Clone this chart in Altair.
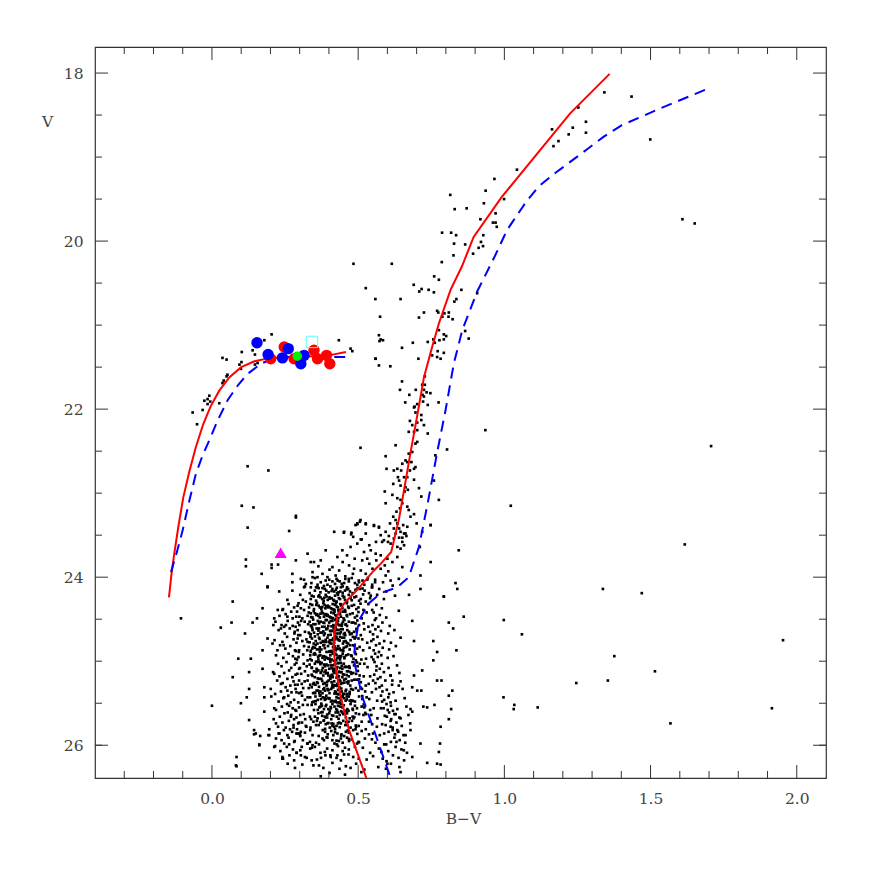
import altair as alt
import pandas as pd

# ---------------- data (B-V, V) ----------------
ms_core = [
(0.352,24.01),(0.468,24.02),(0.401,24.03),(0.515,24.04),(0.437,24.05),(0.372,24.06),(0.489,24.07),(0.421,24.08),(0.548,24.09),(0.456,24.02),(0.389,24.04),(0.503,24.06),(0.444,24.08),(0.361,24.09),(0.478,24.01),(0.412,24.05),(0.531,24.03),(0.452,24.07),(0.395,24.09),(0.426,24.02),(0.497,24.09),(0.468,24.05),(0.340,24.07),(0.558,24.06),(0.430,24.04),
(0.318,24.11),(0.441,24.12),(0.378,24.13),(0.506,24.14),(0.424,24.15),(0.352,24.16),(0.472,24.17),(0.399,24.18),(0.537,24.19),(0.447,24.11),(0.365,24.13),(0.491,24.15),(0.418,24.17),(0.334,24.19),(0.462,24.12),(0.386,24.14),(0.522,24.16),(0.433,24.18),(0.405,24.11),(0.481,24.19),(0.356,24.12),(0.455,24.16),(0.412,24.14),(0.498,24.13),(0.371,24.18),(0.428,24.19),(0.548,24.12),(0.391,24.16),(0.466,24.14),(0.439,24.17),
(0.302,24.21),(0.421,24.22),(0.364,24.23),(0.487,24.24),(0.409,24.25),(0.338,24.26),(0.455,24.27),(0.382,24.28),(0.526,24.29),(0.431,24.21),(0.348,24.23),(0.474,24.25),(0.396,24.27),(0.321,24.29),(0.447,24.22),(0.371,24.24),(0.509,24.26),(0.418,24.28),(0.389,24.21),(0.462,24.29),(0.341,24.22),(0.438,24.26),(0.402,24.24),(0.493,24.23),(0.356,24.28),(0.426,24.29),(0.543,24.22),(0.377,24.26),(0.451,24.24),(0.415,24.27),(0.468,24.21),(0.392,24.23),(0.434,24.25),(0.311,24.27),(0.503,24.28),
(0.296,24.31),(0.413,24.32),(0.357,24.33),(0.478,24.34),(0.401,24.35),(0.332,24.36),(0.446,24.37),(0.374,24.38),(0.518,24.39),(0.424,24.31),(0.343,24.33),(0.466,24.35),(0.388,24.37),(0.315,24.39),(0.439,24.32),(0.365,24.34),(0.501,24.36),(0.411,24.38),(0.381,24.31),(0.455,24.39),(0.336,24.32),(0.431,24.36),(0.396,24.34),(0.486,24.33),(0.349,24.38),(0.419,24.39),(0.535,24.32),(0.369,24.36),(0.443,24.34),(0.407,24.37),(0.461,24.31),(0.385,24.33),(0.427,24.35),(0.304,24.37),(0.494,24.38),(0.421,24.33),(0.398,24.36),(0.437,24.39),
(0.291,24.41),(0.408,24.42),(0.352,24.43),(0.472,24.44),(0.396,24.45),(0.327,24.46),(0.441,24.47),(0.369,24.48),(0.512,24.49),(0.419,24.41),(0.338,24.43),(0.461,24.45),(0.383,24.47),(0.309,24.49),(0.434,24.42),(0.360,24.44),(0.496,24.46),(0.406,24.48),(0.376,24.41),(0.450,24.49),(0.331,24.42),(0.426,24.46),(0.391,24.44),(0.481,24.43),(0.344,24.48),(0.414,24.49),(0.529,24.42),(0.364,24.46),(0.438,24.44),(0.402,24.47),(0.456,24.41),(0.380,24.43),(0.422,24.45),(0.299,24.47),(0.489,24.48),(0.416,24.43),(0.393,24.46),(0.432,24.49),(0.357,24.45),(0.447,24.41),
(0.422,24.51),(0.305,24.52),(0.468,24.53),(0.381,24.54),(0.519,24.55),(0.354,24.56),(0.437,24.57),(0.398,24.58),(0.286,24.59),(0.453,24.51),(0.372,24.53),(0.491,24.55),(0.415,24.57),(0.341,24.59),(0.406,24.52),(0.478,24.54),(0.329,24.56),(0.444,24.58),(0.389,24.51),(0.535,24.59),(0.362,24.52),(0.429,24.56),(0.401,24.54),(0.317,24.53),(0.462,24.58),(0.377,24.59),(0.412,24.52),(0.347,24.56),(0.484,24.54),(0.435,24.57),(0.393,24.51),(0.448,24.53),(0.366,24.55),(0.503,24.57),(0.419,24.58),(0.334,24.53),(0.458,24.56),(0.385,24.59),(0.426,24.55),(0.299,24.57),
(0.358,24.61),(0.447,24.62),(0.293,24.63),(0.412,24.64),(0.486,24.65),(0.371,24.66),(0.429,24.67),(0.338,24.68),(0.509,24.69),(0.395,24.61),(0.463,24.63),(0.318,24.65),(0.437,24.67),(0.383,24.69),(0.521,24.62),(0.404,24.64),(0.349,24.66),(0.472,24.68),(0.416,24.61),(0.302,24.69),(0.441,24.62),(0.376,24.66),(0.495,24.64),(0.423,24.63),(0.362,24.68),(0.456,24.69),(0.391,24.62),(0.331,24.66),(0.407,24.64),(0.478,24.67),(0.366,24.61),(0.433,24.63),(0.541,24.65),(0.386,24.67),(0.451,24.68),(0.344,24.63),(0.419,24.66),(0.398,24.69),(0.469,24.65),(0.282,24.67),
(0.438,24.71),(0.366,24.72),(0.501,24.73),(0.323,24.74),(0.412,24.75),(0.457,24.76),(0.387,24.77),(0.531,24.78),(0.348,24.79),(0.426,24.71),(0.293,24.73),(0.474,24.75),(0.401,24.77),(0.361,24.79),(0.445,24.72),(0.514,24.74),(0.379,24.76),(0.418,24.78),(0.337,24.71),(0.466,24.79),(0.395,24.72),(0.309,24.76),(0.431,24.74),(0.488,24.73),(0.372,24.78),(0.407,24.79),(0.452,24.72),(0.355,24.76),(0.421,24.74),(0.391,24.77),(0.482,24.71),(0.342,24.73),(0.434,24.75),(0.381,24.77),(0.545,24.76),(0.414,24.73),(0.461,24.78),(0.327,24.77),(0.403,24.75),(0.448,24.79),
(0.384,24.81),(0.462,24.82),(0.331,24.83),(0.419,24.84),(0.496,24.85),(0.359,24.86),(0.441,24.87),(0.287,24.88),(0.403,24.89),(0.473,24.81),(0.346,24.83),(0.427,24.85),(0.517,24.87),(0.392,24.89),(0.315,24.82),(0.451,24.84),(0.374,24.86),(0.409,24.88),(0.483,24.81),(0.338,24.89),(0.432,24.82),(0.367,24.86),(0.539,24.84),(0.414,24.83),(0.449,24.88),(0.298,24.87),(0.397,24.82),(0.471,24.86),(0.352,24.84),(0.424,24.87),(0.381,24.81),(0.505,24.83),(0.437,24.85),(0.326,24.87),(0.406,24.88),(0.458,24.83),(0.369,24.89),(0.417,24.86),(0.489,24.89),(0.343,24.85),
(0.447,24.91),(0.312,24.92),(0.405,24.93),(0.478,24.94),(0.363,24.95),(0.429,24.96),(0.527,24.97),(0.386,24.98),(0.341,24.99),(0.416,24.91),(0.459,24.93),(0.296,24.95),(0.398,24.97),(0.492,24.99),(0.354,24.92),(0.436,24.94),(0.378,24.96),(0.511,24.98),(0.422,24.91),(0.327,24.99),(0.466,24.92),(0.393,24.96),(0.442,24.94),(0.371,24.93),(0.409,24.98),(0.484,24.97),(0.348,24.92),(0.431,24.96),(0.381,24.94),(0.546,24.95),(0.413,24.91),(0.336,24.93),(0.453,24.95),(0.402,24.97),(0.364,24.98),(0.476,24.93),(0.425,24.99),(0.389,24.95),(0.285,24.97),(0.438,24.98),
(0.369,25.01),(0.441,25.02),(0.506,25.03),(0.334,25.04),(0.413,25.05),(0.387,25.06),(0.463,25.07),(0.301,25.08),(0.427,25.09),(0.481,25.01),(0.352,25.03),(0.398,25.05),(0.532,25.07),(0.446,25.09),(0.375,25.02),(0.419,25.04),(0.324,25.06),(0.471,25.08),(0.405,25.01),(0.358,25.09),(0.435,25.02),(0.498,25.06),(0.383,25.04),(0.451,25.03),(0.342,25.08),(0.416,25.09),(0.289,25.02),(0.469,25.06),(0.392,25.04),(0.429,25.07),(0.363,25.01),(0.521,25.03),(0.408,25.05),(0.454,25.07),(0.379,25.08),(0.314,25.03),(0.439,25.08),(0.401,25.09),(0.486,25.05),(0.422,25.03),
(0.421,25.11),(0.349,25.12),(0.474,25.13),(0.396,25.14),(0.305,25.15),(0.452,25.16),(0.381,25.17),(0.519,25.18),(0.413,25.19),(0.364,25.11),(0.437,25.13),(0.493,25.15),(0.329,25.17),(0.404,25.19),(0.466,25.12),(0.372,25.14),(0.428,25.16),(0.541,25.18),(0.389,25.11),(0.446,25.19),(0.318,25.12),(0.411,25.16),(0.483,25.14),(0.357,25.13),(0.434,25.18),(0.398,25.17),(0.462,25.12),(0.341,25.16),(0.419,25.14),(0.505,25.17),(0.376,25.11),(0.443,25.13),(0.292,25.15),(0.407,25.17),(0.468,25.18),(0.385,25.13),(0.431,25.18),(0.352,25.19),(0.477,25.15),(0.415,25.12),
(0.367,25.21),(0.452,25.22),(0.298,25.23),(0.418,25.24),(0.509,25.25),(0.386,25.26),(0.441,25.27),(0.336,25.28),(0.473,25.29),(0.405,25.21),(0.551,25.23),(0.359,25.25),(0.428,25.27),(0.392,25.29),(0.487,25.22),(0.317,25.24),(0.446,25.26),(0.412,25.28),(0.374,25.21),(0.526,25.29),(0.433,25.22),(0.348,25.26),(0.467,25.24),(0.399,25.23),(0.284,25.28),(0.421,25.29),(0.495,25.22),(0.362,25.26),(0.439,25.24),(0.381,25.27),(0.458,25.21),(0.327,25.23),(0.409,25.25),(0.536,25.27),(0.393,25.28),(0.478,25.23),(0.354,25.28),(0.426,25.29),(0.461,25.25),(0.307,25.27),
(0.436,25.31),(0.312,25.32),(0.395,25.33),(0.482,25.34),(0.358,25.35),(0.421,25.36),(0.547,25.37),(0.378,25.38),(0.463,25.39),(0.341,25.31),(0.408,25.33),(0.501,25.35),(0.289,25.37),(0.449,25.39),(0.384,25.32),(0.431,25.34),(0.524,25.36),(0.367,25.38),(0.415,25.31),(0.471,25.39),(0.331,25.32),(0.444,25.36),(0.398,25.34),(0.561,25.33),(0.353,25.38),(0.427,25.39),(0.492,25.32),(0.371,25.36),(0.459,25.34),(0.305,25.37),(0.411,25.31),(0.476,25.33),(0.387,25.35),(0.438,25.37),(0.346,25.38),(0.513,25.33),(0.402,25.38),(0.453,25.39),(0.363,25.35),(0.424,25.37),
(0.391,25.41),(0.468,25.42),(0.327,25.43),(0.433,25.44),(0.514,25.45),(0.362,25.46),(0.411,25.47),(0.489,25.48),(0.295,25.49),(0.447,25.41),(0.379,25.43),(0.538,25.45),(0.423,25.47),(0.343,25.49),(0.461,25.42),(0.401,25.44),(0.318,25.46),(0.476,25.48),(0.369,25.41),(0.429,25.49),(0.503,25.42),(0.386,25.46),(0.452,25.44),(0.336,25.43),(0.417,25.48),(0.565,25.47),(0.354,25.42),(0.441,25.46),(0.396,25.44),(0.482,25.47),(0.308,25.41),(0.426,25.43),(0.373,25.45),(0.457,25.47),(0.407,25.48),(0.529,25.43),(0.348,25.48),(0.436,25.49),(0.389,25.45),(0.471,25.47),
(0.412,25.51),(0.327,25.52),(0.489,25.53),(0.371,25.54),(0.446,25.55),(0.553,25.56),(0.398,25.57),(0.285,25.58),(0.467,25.59),(0.354,25.51),(0.431,25.53),(0.521,25.55),(0.383,25.57),(0.458,25.59),(0.311,25.52),(0.419,25.54),(0.578,25.56),(0.362,25.58),(0.474,25.51),(0.403,25.59),(0.341,25.52),(0.496,25.56),(0.438,25.54),(0.376,25.53),(0.541,25.58),(0.425,25.57),(0.298,25.55),(0.463,25.57),(0.391,25.52),(0.512,25.54),(0.349,25.58),(0.441,25.51),(0.407,25.56),(0.482,25.58),(0.367,25.55),
(0.446,25.61),(0.364,25.62),(0.527,25.63),(0.302,25.64),(0.415,25.65),(0.481,25.66),(0.389,25.67),(0.566,25.68),(0.339,25.69),(0.432,25.61),(0.503,25.63),(0.377,25.65),(0.458,25.67),(0.281,25.69),(0.401,25.62),(0.545,25.64),(0.352,25.66),(0.471,25.68),(0.423,25.61),(0.319,25.69),(0.492,25.62),(0.386,25.66),(0.437,25.64),(0.591,25.65),(0.361,25.68),(0.408,25.69),(0.462,25.62),(0.335,25.66),(0.518,25.64),(0.394,25.67),(0.449,25.63),(0.373,25.61),(0.427,25.66),(0.484,25.68),(0.314,25.63),
(0.382,25.71),(0.467,25.72),(0.308,25.73),(0.431,25.74),(0.548,25.75),(0.356,25.76),(0.412,25.77),(0.493,25.78),(0.279,25.79),(0.449,25.71),(0.371,25.73),(0.582,25.75),(0.426,25.77),(0.337,25.79),(0.512,25.72),(0.395,25.74),(0.456,25.76),(0.323,25.78),(0.479,25.71),(0.403,25.79),(0.537,25.72),(0.365,25.76),(0.441,25.74),(0.298,25.73),(0.418,25.78),(0.502,25.77),(0.347,25.72),(0.463,25.76),(0.389,25.75),(0.564,25.78),(0.435,25.73),(0.321,25.77),(0.474,25.79),(0.409,25.74),(0.359,25.71),
(0.421,25.81),(0.336,25.82),(0.512,25.83),(0.387,25.84),(0.468,25.85),(0.289,25.86),(0.443,25.87),(0.574,25.88),(0.365,25.89),(0.491,25.81),(0.408,25.83),(0.318,25.85),(0.537,25.87),(0.452,25.89),(0.379,25.82),(0.604,25.84),(0.429,25.86),(0.344,25.88),(0.483,25.82),(0.396,25.87),(0.551,25.86),(0.458,25.84),(0.302,25.89),(0.415,25.88),(0.526,25.81),
(0.462,25.91),(0.378,25.92),(0.547,25.93),(0.311,25.94),(0.434,25.95),(0.501,25.96),(0.356,25.97),(0.419,25.98),(0.589,25.99),(0.395,25.91),(0.478,25.93),(0.283,25.95),(0.447,25.97),(0.366,25.99),(0.523,25.92),(0.412,25.94),(0.335,25.96),(0.496,25.98),(0.441,25.92),(0.612,25.96),(0.383,25.94),(0.469,25.95),(0.326,25.98),(0.427,25.99),(0.559,25.97),
(0.431,26.01),(0.352,26.02),(0.516,26.03),(0.394,26.04),(0.468,26.05),(0.302,26.06),(0.447,26.07),(0.579,26.08),(0.371,26.09),(0.489,26.02),(0.412,26.06),(0.336,26.04),(0.541,26.09),(0.455,26.03),(0.386,26.08),
(0.467,26.11),(0.388,26.12),(0.551,26.13),(0.318,26.14),(0.426,26.15),(0.502,26.16),(0.359,26.17),(0.441,26.18),(0.597,26.19),(0.405,26.12),(0.483,26.14),(0.341,26.18),(0.529,26.17),(0.452,26.11),(0.373,26.15),
(0.412,26.21),(0.493,26.22),(0.347,26.24),(0.458,26.25),(0.569,26.26),(0.381,26.27),(0.436,26.28),(0.521,26.29),(0.309,26.23),(0.474,26.27),
(0.402,26.33),(0.455,26.35),(0.511,26.32),(0.372,26.37),
]

ms_core_extra = [
(0.383,24.105),(0.427,24.125),(0.461,24.145),(0.409,24.165),(0.447,24.185),(0.515,24.135),
(0.367,24.215),(0.452,24.235),(0.403,24.255),(0.478,24.275),(0.425,24.295),(0.384,24.245),(0.517,24.205),
(0.359,24.305),(0.442,24.325),(0.391,24.345),(0.468,24.365),(0.416,24.385),(0.377,24.355),(0.508,24.315),(0.432,24.395),
(0.348,24.405),(0.436,24.425),(0.387,24.445),(0.462,24.465),(0.411,24.485),(0.371,24.435),(0.501,24.415),(0.425,24.495),(0.339,24.475),
(0.346,24.505),(0.431,24.525),(0.384,24.545),(0.457,24.565),(0.409,24.585),(0.367,24.535),(0.497,24.515),(0.423,24.595),(0.338,24.575),(0.445,24.555),
(0.343,24.605),(0.428,24.625),(0.381,24.645),(0.454,24.665),(0.406,24.685),(0.364,24.635),(0.494,24.615),(0.421,24.695),(0.335,24.675),(0.441,24.655),
(0.352,24.705),(0.424,24.725),(0.389,24.745),(0.451,24.765),(0.403,24.785),(0.368,24.735),(0.491,24.715),(0.416,24.795),(0.334,24.775),(0.437,24.755),
(0.355,24.805),(0.421,24.825),(0.386,24.845),(0.448,24.865),(0.401,24.885),(0.369,24.835),(0.488,24.815),(0.413,24.895),(0.338,24.875),(0.434,24.855),
(0.351,24.905),(0.426,24.925),(0.384,24.945),(0.453,24.965),(0.404,24.985),(0.366,24.935),(0.492,24.915),(0.417,24.995),(0.336,24.975),(0.439,24.955),
(0.356,25.005),(0.431,25.025),(0.388,25.045),(0.457,25.065),(0.409,25.085),(0.371,25.035),(0.496,25.015),(0.421,25.095),(0.341,25.075),(0.444,25.055),
(0.359,25.105),(0.434,25.125),(0.391,25.145),(0.461,25.165),(0.412,25.185),(0.373,25.135),(0.499,25.115),(0.426,25.195),(0.344,25.175),(0.448,25.155),
(0.362,25.205),(0.437,25.225),(0.394,25.245),(0.466,25.265),(0.416,25.285),(0.377,25.235),(0.503,25.215),(0.429,25.295),(0.347,25.275),(0.452,25.255),
(0.366,25.305),(0.442,25.325),(0.398,25.345),(0.471,25.365),(0.419,25.385),(0.381,25.335),(0.509,25.315),(0.433,25.395),(0.351,25.375),(0.457,25.355),
(0.371,25.405),(0.446,25.425),(0.402,25.445),(0.476,25.465),(0.423,25.485),(0.385,25.435),(0.514,25.415),(0.437,25.495),(0.355,25.475),(0.461,25.455),
(0.374,25.505),(0.451,25.525),(0.406,25.545),(0.481,25.565),(0.428,25.585),(0.389,25.535),(0.519,25.515),(0.442,25.595),
(0.378,25.605),(0.455,25.625),(0.411,25.645),(0.487,25.665),(0.433,25.685),(0.394,25.635),(0.524,25.615),
(0.383,25.705),(0.459,25.725),(0.415,25.745),(0.492,25.765),(0.437,25.785),(0.398,25.735),
(0.387,25.805),(0.464,25.825),(0.421,25.845),(0.497,25.865),(0.442,25.885),
(0.392,25.905),(0.468,25.925),(0.426,25.945),(0.503,25.965),
]

ms_wings = [
(0.262,24.32),(0.281,24.36),(0.243,24.38),(0.293,24.34),(0.225,24.39),
(0.271,24.41),(0.252,24.44),(0.288,24.47),(0.231,24.46),(0.276,24.49),
(0.259,24.52),(0.294,24.54),(0.238,24.57),(0.276,24.58),(0.217,24.53),
(0.266,24.61),(0.283,24.65),(0.249,24.67),(0.228,24.63),(0.295,24.69),
(0.257,24.71),(0.279,24.74),(0.241,24.77),(0.289,24.78),(0.214,24.75),
(0.268,24.82),(0.251,24.85),(0.284,24.87),(0.233,24.81),(0.297,24.89),
(0.262,24.91),(0.277,24.94),(0.244,24.96),(0.219,24.93),(0.291,24.98),
(0.255,25.01),(0.283,25.04),(0.238,25.06),(0.271,25.08),(0.298,25.09),(0.226,25.03),
(0.264,25.11),(0.247,25.14),(0.286,25.16),(0.231,25.18),(0.275,25.19),(0.209,25.13),
(0.258,25.21),(0.279,25.24),(0.242,25.26),(0.293,25.28),(0.223,25.23),(0.268,25.29),
(0.252,25.31),(0.286,25.33),(0.236,25.36),(0.272,25.37),(0.216,25.39),(0.298,25.38),
(0.261,25.41),(0.244,25.44),(0.281,25.46),(0.228,25.48),(0.269,25.49),(0.203,25.42),
(0.257,25.51),(0.239,25.54),(0.276,25.56),(0.219,25.58),(0.288,25.59),(0.264,25.53),
(0.248,25.62),(0.271,25.64),(0.232,25.66),(0.289,25.67),(0.211,25.69),(0.259,25.61),
(0.263,25.71),(0.241,25.73),(0.279,25.76),(0.226,25.78),(0.295,25.74),(0.252,25.79),
(0.246,25.82),(0.274,25.84),(0.231,25.86),(0.258,25.88),(0.291,25.81),
(0.262,25.91),(0.238,25.94),(0.281,25.96),(0.247,25.98),(0.219,25.92),
(0.256,26.02),(0.277,26.05),(0.234,26.07),(0.289,26.09),
(0.265,26.12),(0.243,26.16),(0.281,26.18),
(0.259,26.22),(0.284,26.27),
(0.562,24.33),(0.581,24.37),(0.548,24.39),
(0.553,24.42),(0.574,24.45),(0.596,24.48),(0.561,24.49),
(0.557,24.51),(0.583,24.54),(0.549,24.57),(0.608,24.58),(0.569,24.59),
(0.559,24.62),(0.578,24.64),(0.603,24.67),(0.551,24.68),(0.624,24.63),
(0.566,24.71),(0.552,24.74),(0.589,24.76),(0.612,24.78),(0.573,24.79),
(0.561,24.81),(0.584,24.84),(0.553,24.87),(0.606,24.86),(0.571,24.89),(0.629,24.82),
(0.558,24.91),(0.579,24.93),(0.601,24.96),(0.552,24.98),(0.621,24.94),(0.567,24.95),
(0.556,25.01),(0.581,25.03),(0.563,25.06),(0.604,25.08),(0.574,25.09),(0.633,25.05),
(0.562,25.11),(0.588,25.13),(0.555,25.16),(0.611,25.17),(0.576,25.19),(0.641,25.14),
(0.567,25.21),(0.593,25.23),(0.559,25.26),(0.616,25.28),(0.581,25.29),(0.645,25.24),
(0.573,25.31),(0.598,25.34),(0.583,25.36),(0.621,25.37),(0.606,25.39),(0.652,25.33),
(0.578,25.41),(0.603,25.43),(0.589,25.46),(0.628,25.47),(0.611,25.49),(0.659,25.44),(0.582,25.48),
(0.597,25.51),(0.612,25.53),(0.587,25.56),(0.634,25.57),(0.619,25.59),(0.665,25.54),(0.601,25.58),
(0.606,25.61),(0.624,25.63),(0.598,25.66),(0.641,25.67),(0.613,25.69),(0.672,25.64),
(0.611,25.71),(0.631,25.73),(0.594,25.76),(0.649,25.77),(0.618,25.79),(0.678,25.74),
(0.618,25.82),(0.637,25.84),(0.626,25.87),(0.655,25.88),(0.589,25.86),
(0.624,25.91),(0.642,25.94),(0.631,25.96),(0.661,25.97),(0.596,25.99),
(0.628,26.02),(0.648,26.05),(0.603,26.07),(0.667,26.09),
(0.619,26.12),(0.638,26.15),(0.657,26.18),(0.584,26.16),
(0.612,26.22),(0.641,26.26),(0.595,26.28),
]

ms_halo = [
(0.190,24.12),(0.071,24.29),(0.173,24.37),(0.230,24.17),(0.139,24.54),(0.154,24.49),(0.213,24.49),(0.210,24.57),(0.067,24.54),(0.113,24.67),(0.236,24.61),(0.247,24.59),(0.258,24.47),(0.190,24.73),(0.207,24.79),(0.173,24.87),(0.090,24.97),(0.133,24.97),(0.224,24.87),(0.245,24.81),(0.127,25.13),(0.173,25.09),(0.071,25.19),(0.213,25.15),(0.179,25.31),(0.201,25.33),(0.236,25.27),(0.127,25.33),(0.099,25.50),(0.119,25.43),(0.179,25.43),(0.247,25.43),(0.258,25.35),(0.179,25.60),(0.213,25.56),(0.127,25.70),(0.270,25.66),(0.150,25.86),(0.196,25.88),(0.219,25.74),(0.298,25.86),(0.304,25.84),(0.162,26.00),(0.213,26.02),(0.327,25.98),(0.082,26.24),(0.241,26.14),(0.304,26.12),(0.344,26.00),(0.406,26.14),(0.429,26.12),
(0.793,24.23),(0.685,24.52),(0.639,24.40),(0.757,24.76),(0.810,24.54),(0.825,24.61),(0.691,24.76),(0.770,24.89),(0.836,24.87),(0.757,24.99),(0.645,24.72),(0.719,25.11),(0.691,25.17),(0.770,25.23),(0.785,25.23),(0.611,25.17),(0.617,25.23),(0.639,25.29),(0.685,25.31),(0.702,25.35),(0.716,25.35),(0.822,25.35),(0.810,25.41),(0.723,25.54),(0.736,25.55),(0.761,25.52),(0.679,25.57),(0.685,25.60),(0.810,25.69),(0.818,25.57),(0.628,25.63),(0.645,25.68),(0.782,25.78),(0.611,25.78),(0.634,25.82),(0.662,25.88),(0.679,25.82),(0.713,25.98),(0.780,25.98),(0.656,26.06),(0.776,26.08),(0.736,26.21),(0.770,26.22),(0.782,26.23),(0.685,26.14),(0.645,26.32),(0.600,26.22),(0.571,26.04),
(0.084,26.14),(0.084,26.25),(0.144,25.82),(0.144,25.87),(0.165,25.89),(0.196,25.81),(0.193,25.88),(0.162,25.99),(0.196,26.15),(0.216,26.01),(0.228,25.86),(0.241,26.16),(0.267,25.81),(0.264,25.99),(0.292,25.86),(0.301,25.87),(0.290,26.09),(0.307,26.02),(0.324,26.15),(0.342,26.03),(0.366,26.24),
(-0.106,24.49),(0.000,25.53),(0.030,24.60),
]

subgiants = [
(0.287,23.27),(0.497,23.36),(0.506,23.34),(0.526,23.36),(0.477,23.47),(0.452,23.46),(0.554,23.38),(0.571,23.40),(0.509,23.55),(0.577,23.50),(0.588,23.56),(0.719,23.46),(0.748,23.38),(0.418,23.46),(0.446,23.68),(0.389,23.68),(0.429,23.76),(0.327,23.72),(0.287,23.80),(0.349,23.82),(0.372,23.80),(0.474,23.64),(0.497,23.60),(0.520,23.70),(0.543,23.68),(0.560,23.72),(0.577,23.74),(0.600,23.78),(0.617,23.82),(0.634,23.76),(0.651,23.88),(0.514,23.80),(0.531,23.78),(0.469,23.86),(0.486,23.90),(0.412,23.88),(0.435,23.92),(0.509,23.92),(0.526,23.96),(0.549,23.90),(0.577,23.90),(0.594,23.98),(0.611,24.04),(0.378,23.96),(0.395,24.00),(0.344,23.94),(0.304,24.02),(0.275,24.06),(0.315,24.12),(0.258,24.27),(0.275,24.16),(0.639,24.02),(0.713,23.98),(0.713,24.14),(0.674,24.21),(0.793,24.23),(0.833,24.07),(0.839,24.14),(0.748,23.82),(0.844,23.68),(0.861,24.47),(0.253,24.57),(0.241,24.39),
(0.462,23.74),(0.488,23.78),(0.538,23.84),(0.562,23.80),(0.591,23.86),(0.603,23.93),(0.482,23.96),(0.456,23.99),(0.533,24.01),(0.558,24.03),(0.585,24.06),(0.502,24.04),(0.521,24.09),(0.547,24.12),(0.572,24.14),(0.596,24.17),(0.423,23.98),(0.402,23.91),(0.364,23.87),(0.447,23.82),(0.538,23.62),(0.561,23.58),(0.483,23.52),(0.526,23.48),(0.618,24.10),(0.626,24.22),(0.565,24.21),(0.588,24.26),(0.541,24.25),
(0.264,23.45),(0.116,23.79),(0.116,23.87),(0.204,23.85),(0.204,23.89),(0.226,23.85),(0.338,23.82),(0.170,23.96),(0.275,23.96),(0.190,24.11),(0.315,24.03),(0.321,24.08),(0.344,24.00),(0.361,24.00),(0.338,24.12),(0.361,24.12),
]

red_giants = [
(1.342,18.23),(1.435,18.28),(1.253,18.41),(1.279,18.58),(1.234,18.65),(1.163,18.67),(1.220,18.73),(1.279,18.71),(1.185,18.81),(1.168,18.87),(1.499,18.79),(1.043,19.15),(0.966,19.26),(0.936,19.40),(0.815,19.45),(0.999,19.50),(0.930,19.55),(0.830,19.62),(0.871,19.61),(0.970,19.67),(0.918,19.74),(0.961,19.78),(0.970,19.78),(0.974,19.83),(1.609,19.74),(1.651,19.79),
(0.787,19.90),(0.818,19.90),(0.835,19.93),(0.928,19.93),(0.920,20.01),(0.828,20.03),(0.866,20.04),(0.927,20.06),(0.912,20.08),(0.826,20.17),(0.893,20.15),(0.615,20.27),(0.786,20.25),(0.760,20.42),(0.776,20.46),(0.690,20.52),(0.526,20.56),(0.709,20.60),(0.717,20.57),(0.741,20.58),(0.759,20.61),(0.853,20.58),(0.559,20.69),(0.645,20.69),(0.829,20.72),(0.836,20.69),(0.907,20.62),(0.725,20.85),(0.770,20.83),(0.774,20.85),(0.795,20.86),(0.810,20.85),(0.708,20.91),(0.788,20.90),(0.809,20.90),(0.823,20.93),(0.575,20.90),(0.776,21.06),(0.793,21.11),(0.801,21.13),(0.778,21.18),(0.793,21.17),(0.866,21.07),(0.878,21.16),(0.571,21.12),(0.577,21.17),(0.585,21.18),(0.573,21.19),(0.687,21.21),(0.738,21.20),(0.762,21.21),(0.757,21.17),(0.650,21.27),(0.772,21.31),(0.793,21.33),(0.753,21.36),(0.770,21.38),(0.782,21.40),(0.706,21.40),(0.559,21.40),(0.571,21.48),(0.610,21.49),(0.728,21.61),(0.719,21.71),(0.728,21.71),(0.650,21.67),(0.643,21.77),(0.725,21.77),(0.734,21.80),(0.747,21.81),(0.675,21.83),(0.697,21.77),(0.720,21.83),(0.725,21.85),(0.661,21.92),(0.722,21.91),(0.738,21.95),(0.693,21.97),(0.775,21.92),
(0.691,21.98),(0.702,21.94),(0.716,22.07),(0.696,22.04),(0.677,22.14),(0.685,22.19),(0.702,22.16),(0.716,22.13),(0.725,22.19),(0.673,22.27),(0.691,22.27),(0.702,22.25),(0.738,22.29),(0.935,22.25),(0.628,22.43),(0.696,22.41),(0.702,22.39),(0.594,22.56),(0.673,22.53),(0.685,22.51),(0.662,22.61),(0.668,22.63),(0.651,22.65),(0.682,22.63),(0.804,22.48),(0.764,22.55),(0.597,22.71),(0.622,22.73),(0.634,22.71),(0.647,22.73),(0.677,22.73),(0.691,22.71),(0.696,22.69),(0.636,22.81),(0.657,22.81),(0.668,22.81),(0.691,22.84),(0.759,22.85),(0.620,22.89),(0.640,22.85),(0.645,22.91),(0.662,22.93),(0.670,22.96),(0.659,22.98),(0.708,22.94),(0.591,22.98),(0.716,23.04),(0.776,23.08),(0.617,23.02),(0.634,23.06),(0.594,23.12),(0.645,23.08),(0.651,23.12),(0.668,23.16),(0.673,23.20),(0.643,23.18),(0.631,23.22),(0.691,23.25),(0.679,23.28),(0.620,23.28),(0.628,23.32),(0.634,23.36),(0.654,23.38),(0.668,23.40),(0.700,23.36),(0.609,23.36),(0.622,23.42),(0.640,23.42),(0.748,23.38),(0.594,23.46),(0.628,23.48),(0.645,23.46),(0.657,23.48),(0.605,23.51),(0.622,23.54),(0.640,23.53),(0.651,23.53),(0.662,23.48),(0.665,23.51),(0.582,23.58),(0.602,23.58),(0.611,23.60),(0.651,23.58),(0.657,23.62),(0.634,23.64),(0.645,23.66),(0.711,23.64),
]

hb_and_field = [
(0.484,20.27),(0.204,21.11),(0.179,21.18),(0.139,21.30),(0.147,21.35),(0.102,21.32),(0.036,21.39),(0.050,21.41),(0.101,21.44),(0.094,21.47),(0.099,21.52),(0.156,21.45),(0.147,21.47),(0.053,21.59),(0.050,21.61),(0.040,21.66),(0.036,21.69),(-0.009,21.84),(-0.015,21.88),(-0.026,21.90),(-0.006,21.91),(-0.015,21.94),(0.025,21.93),(-0.032,22.01),(-0.066,22.04),(-0.051,22.18),(0.434,21.18),(0.474,21.28),(0.480,21.31),(0.560,21.40),(0.508,22.46),(0.122,22.68),(0.193,22.73),(0.102,23.15),(0.142,23.17),(0.287,23.29),(0.122,23.41),(0.451,23.47),(0.476,23.49),(0.491,23.38),(0.497,23.37),(0.508,23.32),(0.526,23.37),(0.554,23.39),(0.571,23.41),(0.512,23.55),
(1.707,22.44),(1.022,23.15),(1.617,23.61),(1.337,24.14),(1.470,24.19),(0.998,24.51),(1.060,24.68),(1.953,24.75),(1.376,24.94),(1.515,25.12),(1.246,25.26),(1.354,25.23),(0.997,25.43),(1.034,25.52),(1.032,25.57),(1.114,25.55),(1.915,25.56),(1.568,25.74),
]

# isochrone 1 (red, solid): RGB/MS branch and HB branch
red_rgb = [(1.36,18.01),(1.225,18.48),(0.99,19.48),(0.895,19.95),(0.855,20.30),(0.816,20.58),(0.776,20.98),(0.753,21.26),(0.725,21.62),(0.706,22.0),(0.68,22.5),(0.655,23.0),(0.64,23.3),(0.613,23.70),(0.58,23.83),(0.554,23.92),(0.497,24.15),(0.452,24.31),(0.430,24.45),(0.419,24.65),(0.416,24.85),(0.421,25.03),(0.440,25.42),(0.469,25.82),(0.528,26.39)]
red_hb = [(-0.147,24.24),(-0.138,23.95),(-0.128,23.70),(-0.115,23.40),(-0.098,23.05),(-0.078,22.75),(-0.055,22.45),(-0.030,22.18),(-0.005,21.97),(0.025,21.78),(0.060,21.62),(0.100,21.50),(0.145,21.43),(0.200,21.39),(0.300,21.38),(0.400,21.36),(0.458,21.32)]
# isochrone 2 (blue, dashed)
blue_rgb = [(1.686,18.2),(1.527,18.43),(1.402,18.62),(1.339,18.76),(1.282,18.91),(1.174,19.19),(1.117,19.35),(1.075,19.53),(1.032,19.75),(1.009,19.87),(0.966,20.19),(0.907,20.60),(0.856,21.06),(0.827,21.46),(0.799,22.01),(0.771,22.5),(0.740,23.08),(0.708,23.64),(0.673,24.0),(0.634,24.12),(0.577,24.19),(0.537,24.31),(0.503,24.51),(0.488,24.83),(0.488,25.03),(0.514,25.42),(0.554,25.82),(0.611,26.39)]
blue_hb = [(-0.140,23.94),(-0.120,23.70),(-0.100,23.44),(-0.078,23.10),(-0.055,22.77),(-0.032,22.55),(-0.009,22.37),(0.020,22.13),(0.054,21.89),(0.090,21.71),(0.122,21.58),(0.167,21.46),(0.200,21.41),(0.235,21.38),(0.463,21.38)]

# highlighted horizontal-branch stars
hb_red = [(0.201,21.40),(0.247,21.26),(0.281,21.40),(0.349,21.30),(0.361,21.40),(0.392,21.36),(0.403,21.46)]
hb_blue = [(0.154,21.21),(0.192,21.35),(0.241,21.39),(0.261,21.28),(0.304,21.46),(0.315,21.36)]
hb_green = [(0.292,21.37)]
hb_cyan = [(0.342,21.20)]
triangle = [(0.235,23.71)]

x_major = [0.0, 0.5, 1.0, 1.5, 2.0]
x_minor = [-0.3, -0.2, -0.1, 0.1, 0.2, 0.3, 0.4, 0.6, 0.7, 0.8, 0.9, 1.1, 1.2, 1.3, 1.4, 1.6, 1.7, 1.8, 1.9]
y_major = [18, 20, 22, 24, 26]
y_minor = [18.5, 19, 19.5, 20.5, 21, 21.5, 22.5, 23, 23.5, 24.5, 25, 25.5, 26]

# ---------------- chart ----------------
W = H = 731
FONT = "DejaVu Serif"
INK = "#333333"
TXT = "#444444"
xsc = alt.Scale(domain=[-0.4, 2.1], nice=False, zero=False)
ysc = alt.Scale(domain=[17.69, 26.39], reverse=True, nice=False, zero=False)

x_axis = alt.Axis(values=x_major, format=".1f", ticks=False, domain=False, grid=False,
                  labelFont=FONT, labelFontSize=15.5, labelColor=TXT, labelPadding=13,
                  titleFont=FONT, titleFontSize=15.5, titleFontWeight="normal",
                  titleColor=TXT, titleX=368, titleY=40, titleAlign="center", titleBaseline="middle")
y_axis = alt.Axis(values=y_major, format="d", ticks=False, domain=False, grid=False,
                  labelFont=FONT, labelFontSize=15.5, labelColor=TXT, labelPadding=12,
                  titleFont=FONT, titleFontSize=15.5, titleFontWeight="normal",
                  titleColor=TXT, titleAngle=0, titleX=-48, titleY=74, titleAlign="center",
                  titleBaseline="middle")


def pts_df(lst):
    return pd.DataFrame(lst, columns=["bv", "v"])


def X(field="bv"):
    return alt.X(f"{field}:Q", scale=xsc, axis=x_axis, title="B−V")


def Y(field="v"):
    return alt.Y(f"{field}:Q", scale=ysc, axis=y_axis, title="V")


stars = ms_core + ms_core_extra + ms_wings + ms_halo + subgiants + red_giants + hb_and_field
pts = alt.Chart(pts_df(stars)).mark_square(size=7, color="black", opacity=1).encode(x=X(), y=Y())


def line_df(segments):
    rows = []
    for s, seg in enumerate(segments):
        for i, (b, v) in enumerate(seg):
            rows.append({"seg": s, "i": i, "bv": b, "v": v})
    return pd.DataFrame(rows)


red_line = alt.Chart(line_df([red_rgb, red_hb])).mark_line(
    color="#ff0000", strokeWidth=2, clip=True).encode(
    x=X(), y=Y(), detail="seg:N", order="i:Q")
blue_line = alt.Chart(line_df([blue_rgb, blue_hb])).mark_line(
    color="#0000ff", strokeWidth=2, strokeDash=[11, 7], clip=True).encode(
    x=X(), y=Y(), detail="seg:N", order="i:Q")

big_red = alt.Chart(pts_df(hb_red)).mark_circle(size=130, color="#ff0000", opacity=1).encode(x=X(), y=Y())
big_blue = alt.Chart(pts_df(hb_blue)).mark_circle(size=130, color="#0000ff", opacity=1).encode(x=X(), y=Y())
big_green = alt.Chart(pts_df(hb_green)).mark_circle(size=90, color="#00ee00", opacity=1).encode(x=X(), y=Y())
cyan_sq = alt.Chart(pts_df(hb_cyan)).mark_point(shape="square", size=130, color="#55ffff",
                                                 filled=False, strokeWidth=1, opacity=1).encode(x=X(), y=Y())
tri = alt.Chart(pts_df(triangle)).mark_point(shape="triangle-up", size=150, color="#ff00ff",
                                              filled=True, opacity=1).encode(x=X(), y=Y())


def xticks(vals, y0, y1):
    return alt.Chart(pd.DataFrame({"bv": vals})).mark_rule(color=INK, strokeWidth=1).encode(
        x=X(), y=alt.value(y0), y2=alt.value(y1))


def yticks(vals, x0, x1):
    return alt.Chart(pd.DataFrame({"v": vals})).mark_rule(color=INK, strokeWidth=1).encode(
        y=Y(), x=alt.value(x0), x2=alt.value(x1))


ticks = [
    xticks(x_major, H, H - 13), xticks(x_minor, H, H - 7),
    xticks(x_major, 0, 13), xticks(x_minor, 0, 7),
    yticks(y_major, 0, 13), yticks(y_minor, 0, 7),
    yticks(y_major, W, W - 13), yticks(y_minor, W, W - 7),
]

chart = alt.layer(pts, *ticks, red_line, blue_line, big_red, big_blue, big_green, cyan_sq, tri).properties(
    width=W, height=H,
    autosize=alt.AutoSizeParams(type="none"),
    padding={"left": 87, "top": 39, "right": 30, "bottom": 78},
).configure_view(stroke=INK, strokeWidth=1.2)

chart.save("out.html", embed_options={"renderer": "svg", "actions": False})
